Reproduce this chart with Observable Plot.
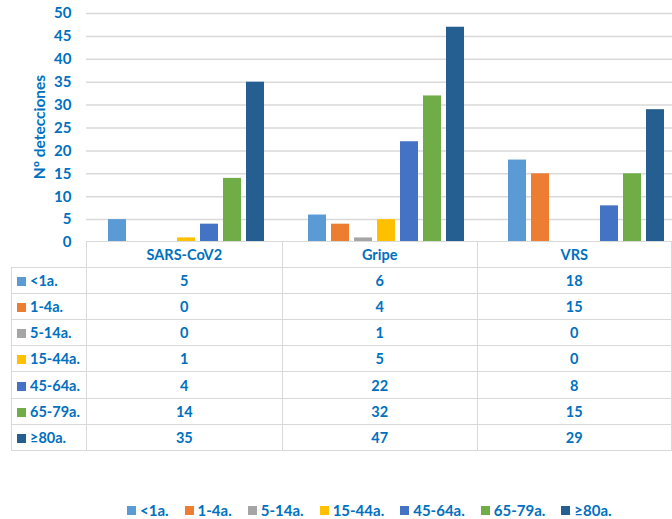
<!DOCTYPE html>
<html>
<head>
<meta charset="utf-8">
<script src="https://cdn.jsdelivr.net/npm/d3@7"></script>
<script src="https://cdn.jsdelivr.net/npm/@observablehq/plot@0.6"></script>
<style>
  html, body { margin: 0; padding: 0; background: #fff; }
  #wrap { position: relative; width: 672px; height: 519px; overflow: hidden; font-family: Lato, "Open Sans", sans-serif; color: #0070C0; font-weight: bold; }
  #chart { position: absolute; left: 0; top: 0; }
  #chart svg { max-width: none !important; }
  #ylabel { position: absolute; left: 39px; top: 127px; transform: translate(-50%, -50%) rotate(-90deg); font-size: 15.5px; white-space: nowrap; }
  #tbl { position: absolute; left: 11px; top: 241px; border-collapse: collapse; table-layout: fixed; font-size: 14.5px; }
  #tbl td { border: 1.5px solid #d9d9d9; height: 25.1px; padding: 0; text-align: center; white-space: nowrap; background: #fff; }
  #tbl tr:first-child td { height: 24.4px; }
  #tbl td.lab { text-align: left; padding-left: 5px; }
  #tbl td.blank { border-top: none; border-left: none; background: transparent; }
  .sw { display: inline-block; width: 9px; height: 9px; margin-right: 4px; }
  #legend { position: absolute; left: 127px; top: 501px; display: flex; align-items: center; font-size: 15px; }
  #legend .it { display: flex; align-items: center; margin-right: 16px; }
  #legend .sw { margin-right: 4px; }
</style>
</head>
<body>
<div id="wrap">
  <div id="chart"></div>
  <div id="ylabel">Nº detecciones</div>
  <table id="tbl"></table>
  <div id="legend"></div>
</div>
<script>
const viruses = ["SARS-CoV2", "Gripe", "VRS"];
const ages = ["<1a.", "1-4a.", "5-14a.", "15-44a.", "45-64a.", "65-79a.", "≥80a."];
const sarsValues = [5, 0, 0, 1, 4, 14, 35];
const gripeValues = [6, 4, 1, 5, 22, 32, 47];
const vrsValues = [18, 15, 0, 0, 8, 15, 29];
const yTicks = [0, 5, 10, 15, 20, 25, 30, 35, 40, 45, 50];
const colors = ["#5B9BD5", "#ED7D31", "#A5A5A5", "#FFC000", "#4472C4", "#70AD47", "#255E91"];

const series = [sarsValues, gripeValues, vrsValues];
const data = viruses.flatMap((v, i) => ages.map((a, j) => ({virus: v, age: a, value: series[i][j]})));

const chart = Plot.plot({
  width: 686,
  height: 254,
  marginTop: 13,
  marginBottom: 12,
  marginLeft: 86,
  marginRight: 0,
  style: {fontFamily: "Lato, 'Open Sans', sans-serif", fontSize: "15px", fontWeight: "bold", color: "#0070C0", background: "transparent", overflow: "visible"},
  fx: {domain: viruses, padding: 0, axis: null},
  x: {domain: ages, axis: null, paddingInner: 0.21, paddingOuter: 0.86},
  y: {domain: [0, 50], axis: null},
  color: {domain: ages, range: colors},
  marks: [
    Plot.gridY(yTicks, {stroke: "#d9d9d9", strokeOpacity: 1, strokeWidth: 1.5}),
    Plot.axisY(yTicks, {tickSize: 0, tickPadding: 15, label: null, fill: "#0070C0", fontSize: 15, fontWeight: "bold"}),
    Plot.barY(data, {fx: "virus", x: "age", y: "value", fill: "age"})
  ]
});
document.getElementById("chart").appendChild(chart);

// Data table
const tbl = document.getElementById("tbl");
const colgroup = document.createElement("colgroup");
[75, 200, 200, 200].forEach(w => { const c = document.createElement("col"); c.style.width = w + "px"; colgroup.appendChild(c); });
tbl.appendChild(colgroup);
const head = document.createElement("tr");
const blank = document.createElement("td"); blank.className = "blank"; head.appendChild(blank);
viruses.forEach(v => { const td = document.createElement("td"); td.textContent = v; head.appendChild(td); });
tbl.appendChild(head);
ages.forEach((a, j) => {
  const tr = document.createElement("tr");
  const lab = document.createElement("td"); lab.className = "lab";
  const sw = document.createElement("span"); sw.className = "sw"; sw.style.background = colors[j];
  lab.appendChild(sw); lab.appendChild(document.createTextNode(a));
  tr.appendChild(lab);
  series.forEach(s => { const td = document.createElement("td"); td.textContent = s[j]; tr.appendChild(td); });
  tbl.appendChild(tr);
});

// Legend
const legend = document.getElementById("legend");
ages.forEach((a, j) => {
  const it = document.createElement("div"); it.className = "it";
  const sw = document.createElement("span"); sw.className = "sw"; sw.style.background = colors[j];
  it.appendChild(sw); it.appendChild(document.createTextNode(a));
  legend.appendChild(it);
});
</script>
</body>
</html>
